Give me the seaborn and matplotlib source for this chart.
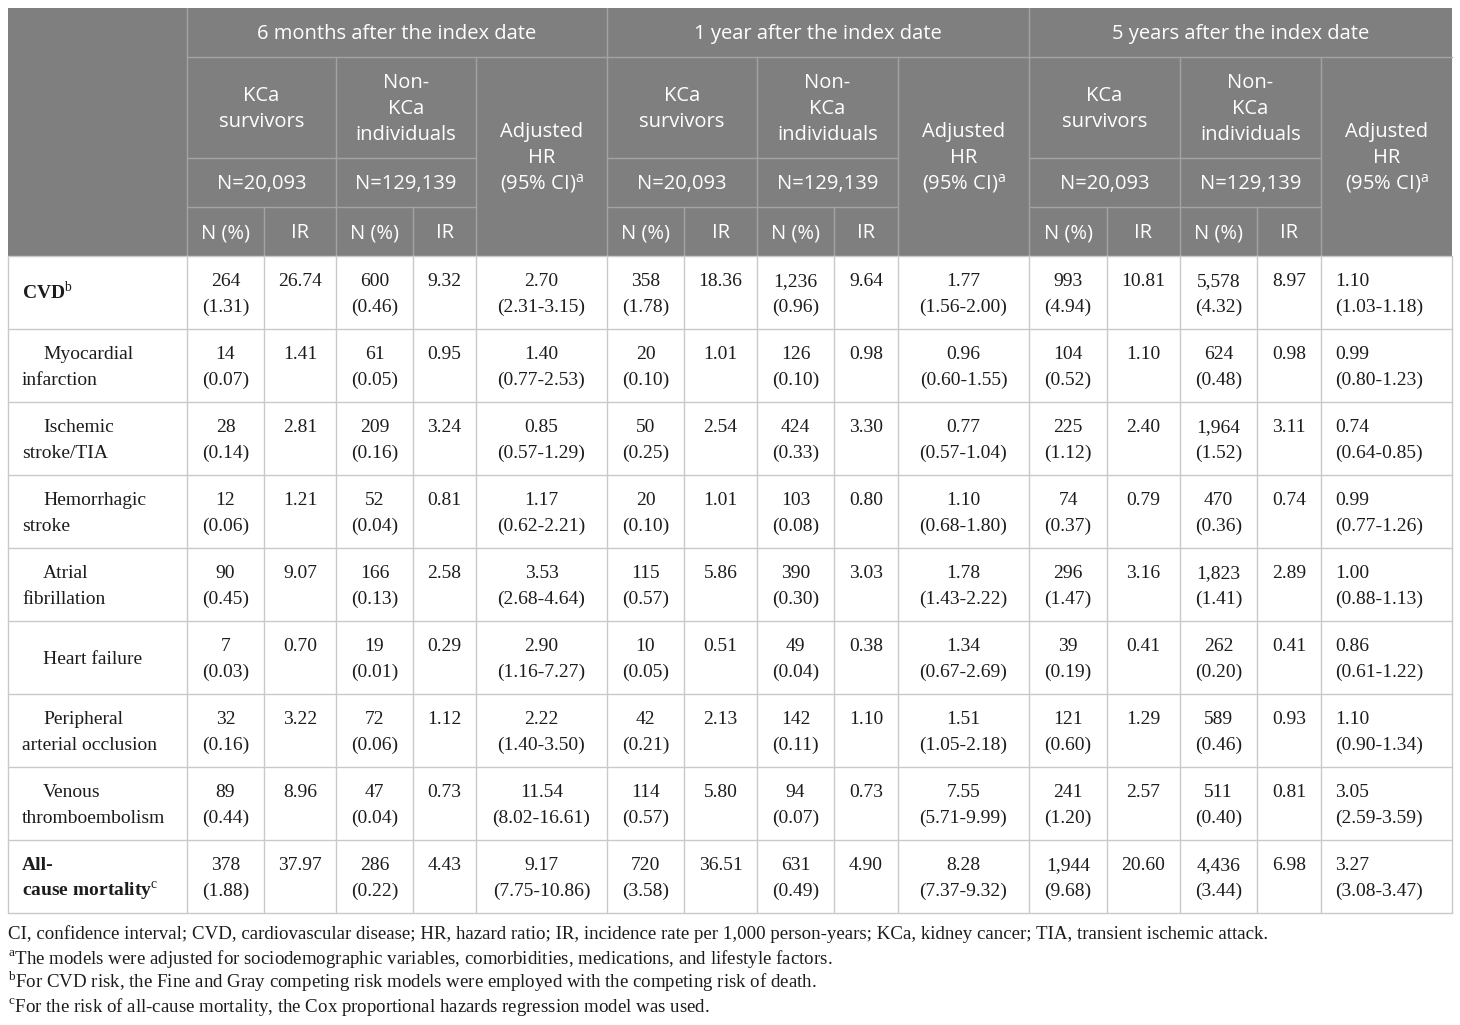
import numpy as np
import pandas as pd
import seaborn as sns
import matplotlib.pyplot as plt
from matplotlib.patches import Rectangle

sns.set_theme(style="white")
plt.rcParams['mathtext.fontset'] = 'custom'
plt.rcParams['mathtext.rm'] = 'Liberation Serif'
plt.rcParams['mathtext.sf'] = 'Open Sans'

SERIF = 'Liberation Serif'
SANS = 'Open Sans'

# ---- data ----
outcomes = ["CVD", "Myocardial infarction", "Ischemic stroke/TIA", "Hemorrhagic stroke",
            "Atrial fibrillation", "Heart failure", "Peripheral arterial occlusion",
            "Venous thromboembolism", "All-cause mortality"]
outcome_lines = [["CVD$^{\\mathrm{b}}$"], ["Myocardial", "infarction"], ["Ischemic", "stroke/TIA"],
                 ["Hemorrhagic", "stroke"], ["Atrial", "fibrillation"], ["Heart failure"],
                 ["Peripheral", "arterial occlusion"], ["Venous", "thromboembolism"],
                 ["All-", "cause mortality$^{\\mathrm{c}}$"]]
bold_rows = [0, 8]

periods = ["6 months after the index date", "1 year after the index date", "5 years after the index date"]
kca_total = "N=20,093"
non_total = "N=129,139"

# 6 months
kca_n_6m = [264, 14, 28, 12, 90, 7, 32, 89, 378]
kca_pct_6m = [1.31, 0.07, 0.14, 0.06, 0.45, 0.03, 0.16, 0.44, 1.88]
kca_ir_6m = [26.74, 1.41, 2.81, 1.21, 9.07, 0.70, 3.22, 8.96, 37.97]
non_n_6m = [600, 61, 209, 52, 166, 19, 72, 47, 286]
non_pct_6m = [0.46, 0.05, 0.16, 0.04, 0.13, 0.01, 0.06, 0.04, 0.22]
non_ir_6m = [9.32, 0.95, 3.24, 0.81, 2.58, 0.29, 1.12, 0.73, 4.43]
hr_6m = [2.70, 1.40, 0.85, 1.17, 3.53, 2.90, 2.22, 11.54, 9.17]
hr_lo_6m = [2.31, 0.77, 0.57, 0.62, 2.68, 1.16, 1.40, 8.02, 7.75]
hr_hi_6m = [3.15, 2.53, 1.29, 2.21, 4.64, 7.27, 3.50, 16.61, 10.86]

# 1 year
kca_n_1y = [358, 20, 50, 20, 115, 10, 42, 114, 720]
kca_pct_1y = [1.78, 0.10, 0.25, 0.10, 0.57, 0.05, 0.21, 0.57, 3.58]
kca_ir_1y = [18.36, 1.01, 2.54, 1.01, 5.86, 0.51, 2.13, 5.80, 36.51]
non_n_1y = [1236, 126, 424, 103, 390, 49, 142, 94, 631]
non_pct_1y = [0.96, 0.10, 0.33, 0.08, 0.30, 0.04, 0.11, 0.07, 0.49]
non_ir_1y = [9.64, 0.98, 3.30, 0.80, 3.03, 0.38, 1.10, 0.73, 4.90]
hr_1y = [1.77, 0.96, 0.77, 1.10, 1.78, 1.34, 1.51, 7.55, 8.28]
hr_lo_1y = [1.56, 0.60, 0.57, 0.68, 1.43, 0.67, 1.05, 5.71, 7.37]
hr_hi_1y = [2.00, 1.55, 1.04, 1.80, 2.22, 2.69, 2.18, 9.99, 9.32]

# 5 years
kca_n_5y = [993, 104, 225, 74, 296, 39, 121, 241, 1944]
kca_pct_5y = [4.94, 0.52, 1.12, 0.37, 1.47, 0.19, 0.60, 1.20, 9.68]
kca_ir_5y = [10.81, 1.10, 2.40, 0.79, 3.16, 0.41, 1.29, 2.57, 20.60]
non_n_5y = [5578, 624, 1964, 470, 1823, 262, 589, 511, 4436]
non_pct_5y = [4.32, 0.48, 1.52, 0.36, 1.41, 0.20, 0.46, 0.40, 3.44]
non_ir_5y = [8.97, 0.98, 3.11, 0.74, 2.89, 0.41, 0.93, 0.81, 6.98]
hr_5y = [1.10, 0.99, 0.74, 0.99, 1.00, 0.86, 1.10, 3.05, 3.27]
hr_lo_5y = [1.03, 0.80, 0.64, 0.77, 0.88, 0.61, 0.90, 2.59, 3.08]
hr_hi_5y = [1.18, 1.23, 0.85, 1.26, 1.13, 1.22, 1.34, 3.59, 3.47]

footnotes = [
    "CI, confidence interval; CVD, cardiovascular disease; HR, hazard ratio; IR, incidence rate per 1,000 person-years; "
    "KCa, kidney cancer; TIA, transient ischemic attack.",
    "$^{\\mathrm{a}}$The models were adjusted for sociodemographic variables, comorbidities, medications, and lifestyle factors.",
    "$^{\\mathrm{b}}$For CVD risk, the Fine and Gray competing risk models were employed with the competing risk of death.",
    "$^{\\mathrm{c}}$For the risk of all-cause mortality, the Cox proportional hazards regression model was used.",
]

period_data = [
    (kca_n_6m, kca_pct_6m, kca_ir_6m, non_n_6m, non_pct_6m, non_ir_6m, hr_6m, hr_lo_6m, hr_hi_6m),
    (kca_n_1y, kca_pct_1y, kca_ir_1y, non_n_1y, non_pct_1y, non_ir_1y, hr_1y, hr_lo_1y, hr_hi_1y),
    (kca_n_5y, kca_pct_5y, kca_ir_5y, non_n_5y, non_pct_5y, non_ir_5y, hr_5y, hr_lo_5y, hr_hi_5y),
]

# ---- layout (pixels) ----
col_edges = [8, 187, 264, 336, 413, 476, 607, 684, 757, 834, 898, 1029, 1107, 1180, 1257, 1321, 1452]
head_edges = [8, 57, 158, 207, 256]
row_h = 73
body_top = 256
body_edges = [body_top + i * row_h for i in range(len(outcomes) + 1)]

HEAD_BG = '#7f7f7f'
HEAD_LINE = '#a3a3a3'
GRID = '#c9c9c9'
INK = '#1c1c1c'
BODY_FS = 14
HEAD_FS = 14.5
FOOT_FS = 13.6
LINE = 26

fig = plt.figure(figsize=(14.6, 10.25), dpi=100)
ax = fig.add_axes([0, 0, 1, 1])
ax.set_xlim(0, 1460)
ax.set_ylim(1025, 0)
ax.axis('off')


def lines_at(xc, yc, lines, ha='center', **kw):
    n = len(lines)
    for i, s in enumerate(lines):
        y = yc + 6.5 + (i - (n - 1) / 2) * LINE
        ax.text(xc, y, s, ha=ha, va='baseline', **kw)


def head(xc, yc, lines):
    lines_at(xc, yc, lines, family=SANS, fontsize=HEAD_FS, color='white')


# header background
ax.add_patch(Rectangle((col_edges[0], head_edges[0]), col_edges[-1] - col_edges[0],
                       head_edges[-1] - head_edges[0], facecolor=HEAD_BG, edgecolor='none'))

hl = dict(color=HEAD_LINE, lw=1.0)
for p in range(3):
    e = col_edges[1 + 5 * p: 7 + 5 * p]
    x0, x5 = e[0], e[5]
    # period title
    head((x0 + x5) / 2, (head_edges[0] + head_edges[1]) / 2, [periods[p]])
    ax.plot([x0, x5], [head_edges[1]] * 2, **hl)
    ax.plot([x0, x0], [head_edges[0], head_edges[4]], **hl)
    # group titles
    head((e[0] + e[2]) / 2, (head_edges[1] + head_edges[2]) / 2, ["KCa", "survivors"])
    head((e[2] + e[4]) / 2, (head_edges[1] + head_edges[2]) / 2, ["Non-", "KCa", "individuals"])
    head((e[4] + e[5]) / 2, (head_edges[1] + head_edges[4]) / 2,
         ["Adjusted", "HR", "(95% CI)$^{\\mathsf{a}}$"])
    head((e[0] + e[2]) / 2, (head_edges[2] + head_edges[3]) / 2, [kca_total])
    head((e[2] + e[4]) / 2, (head_edges[2] + head_edges[3]) / 2, [non_total])
    for k in range(4):
        head((e[k] + e[k + 1]) / 2, (head_edges[3] + head_edges[4]) / 2, ["N (%)" if k % 2 == 0 else "IR"])
    for yy in (head_edges[2], head_edges[3]):
        ax.plot([e[0], e[4]], [yy, yy], **hl)
    for xx in (e[2], e[4]):
        ax.plot([xx, xx], [head_edges[1], head_edges[4]], **hl)
    for xx in (e[1], e[3]):
        ax.plot([xx, xx], [head_edges[3], head_edges[4]], **hl)

# body grid
for yy in body_edges:
    ax.plot([col_edges[0], col_edges[-1]], [yy, yy], color=GRID, lw=1.0)
for xx in col_edges:
    ax.plot([xx, xx], [body_edges[0], body_edges[-1]], color=GRID, lw=1.0)

# body text
body = dict(family=SERIF, fontsize=BODY_FS, color=INK)
for r, lab in enumerate(outcome_lines):
    top = body_edges[r]
    yc = top + row_h / 2
    weight = 'bold' if r in bold_rows else 'normal'
    n = len(lab)
    for i, s in enumerate(lab):
        y = yc + 6.5 + (i - (n - 1) / 2) * LINE
        x = 22 if (r in bold_rows or i > 0) else 43
        ax.text(x, y, s, ha='left', va='baseline', fontweight=weight, **body)
    for p, d in enumerate(period_data):
        kn, kp, ki, nn, npc, ni, hr, lo, hi = d
        e = col_edges[1 + 5 * p: 7 + 5 * p]
        y1, y2 = top + 30, top + 56
        cells = [
            ([f"{kn[r]:,}", f"({kp[r]:.2f})"], (e[0] + e[1]) / 2),
            ([f"{ki[r]:.2f}"], (e[1] + e[2]) / 2),
            ([f"{nn[r]:,}", f"({npc[r]:.2f})"], (e[2] + e[3]) / 2),
            ([f"{ni[r]:.2f}"], (e[3] + e[4]) / 2),
        ]
        for lines, xc in cells:
            for s, y in zip(lines, (y1, y2)):
                ax.text(xc, y, s, ha='center', va='baseline', **body)
        hr_lines = [f"{hr[r]:.2f}", f"({lo[r]:.2f}-{hi[r]:.2f})"]
        if p == 2:
            for s, y in zip(hr_lines, (y1, y2)):
                ax.text(e[4] + 14, y, s, ha='left', va='baseline', **body)
        else:
            for s, y in zip(hr_lines, (y1, y2)):
                ax.text((e[4] + e[5]) / 2, y, s, ha='center', va='baseline', **body)

# footnotes
for i, s in enumerate(footnotes):
    ax.text(8, 939 + i * 24.5, s, ha='left', va='baseline', family=SERIF, fontsize=FOOT_FS, color=INK)

fig.savefig("out.png", dpi=100, facecolor='white')
